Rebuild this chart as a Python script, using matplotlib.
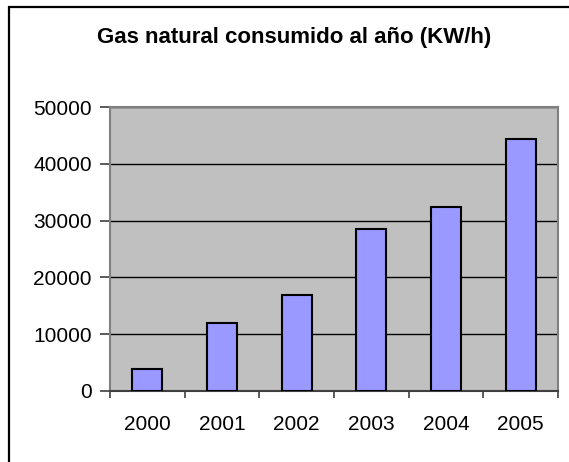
import matplotlib.pyplot as plt
from matplotlib.patches import Rectangle

years = ['2000', '2001', '2002', '2003', '2004', '2005']
consumo = [3900, 11900, 16900, 28500, 32400, 44300]
yticks = [0, 10000, 20000, 30000, 40000, 50000]

plt.rcParams['font.family'] = ['Liberation Sans', 'DejaVu Sans']

W, H = 569, 462
fig = plt.figure(figsize=(W / 100, H / 100), dpi=100)
ax = fig.add_axes([110 / W, 1 - 391 / H, (558 - 110) / W, (391 - 107) / H])

ax.set_facecolor('#C0C0C0')
x = range(len(years))
ax.bar(x, consumo, width=0.4, color='#9999FF', edgecolor='black', linewidth=1.5, zorder=3)

ax.set_xlim(-0.5, len(years) - 0.5)
ax.set_ylim(0, 50000)
ax.set_yticks(yticks)
ax.set_yticklabels([str(v) for v in yticks])
ax.set_xticks(x)
ax.set_xticklabels(years)
# category ticks sit between the bars
ax.set_xticks([i - 0.5 for i in range(len(years) + 1)], minor=True)
ax.tick_params(axis='x', which='major', length=0, pad=17, labelsize=15)
ax.tick_params(axis='x', which='minor', length=5, width=1.2, color='#404040')
ax.tick_params(axis='y', length=7, width=1.2, color='#404040', pad=6, labelsize=15)

ax.grid(axis='y', color='black', linewidth=1.0, zorder=1)
for side in ['top', 'right', 'left']:
    ax.spines[side].set_color('#808080')
    ax.spines[side].set_linewidth(1.5)
ax.spines['bottom'].set_color('#404040')
ax.spines['bottom'].set_linewidth(1.5)

fig.text(294 / W, 1 - 43 / H, 'Gas natural consumido al año (KW/h)',
         ha='center', va='baseline', fontsize=16, fontweight='bold')

# outer chart border (cut off on the right and bottom)
fig.patches.append(Rectangle((9 / W, -0.1), 1.2, 1 - 7 / H + 0.1, transform=fig.transFigure,
                             fill=False, edgecolor='black', linewidth=1.6))

fig.savefig('out.png', dpi=100)
